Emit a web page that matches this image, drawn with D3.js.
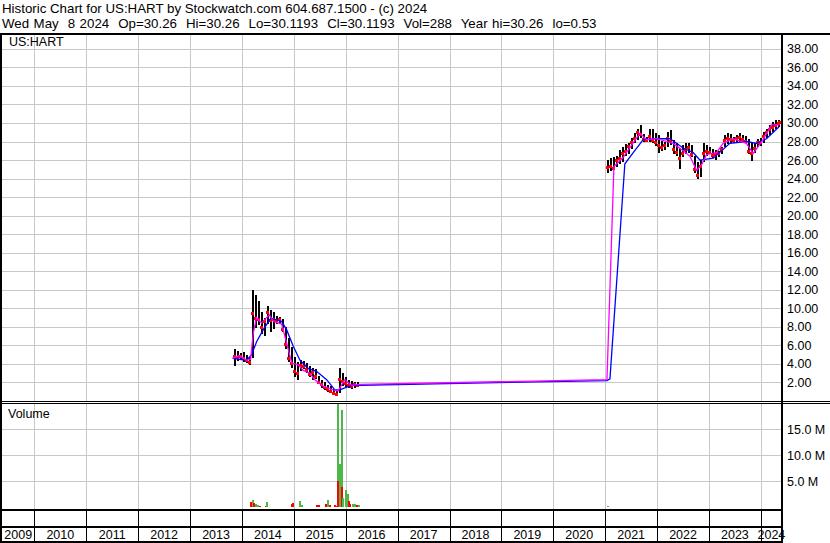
<!DOCTYPE html>
<html lang="en">
<head>
<meta charset="UTF-8">
<title>Historic Chart US:HART</title>
<script src="https://d3js.org/d3.v7.min.js"></script>
<style>
    body { margin: 0; background: #fff; }
    text { font-family: Arial, "Liberation Sans", sans-serif; fill: #000; }
    .hdr { white-space: pre; }
</style>
</head>
<body>
<div id="chart"></div>
<script>
// header lines
var headerLines = [
    "Historic Chart for US:HART by Stockwatch.com 604.687.1500 - (c) 2024",
    "Wed May  8 2024  Op=30.26  Hi=30.26  Lo=30.1193  Cl=30.1193  Vol=288  Year hi=30.26  lo=0.53"
];

var yearLabels = ["2009", "2010", "2011", "2012", "2013", "2014", "2015", "2016",
    "2017", "2018", "2019", "2020", "2021", "2022", "2023", "2024"];
var priceTicks = [2, 4, 6, 8, 10, 12, 14, 16, 18, 20, 22, 24, 26, 28, 30, 32, 34, 36, 38];
var volumeTicks = [5, 10, 15]; // millions

// [date, high, low, close]
var priceBars = [
    ["2013-11-03", 5.6, 3.8, 4.9], ["2013-11-24", 5.4, 4.3, 4.7], ["2013-12-16", 5.2, 4.4, 4.9],
    ["2014-01-06", 5.3, 4.2, 4.6], ["2014-01-27", 5.0, 4.1, 4.4], ["2014-02-17", 4.7, 3.9, 4.2],
    ["2014-03-10", 12.0, 4.6, 9.5], ["2014-03-31", 11.4, 7.9, 9.0], ["2014-04-21", 10.8, 8.2, 8.8],
    ["2014-05-12", 9.6, 7.2, 8.0], ["2014-06-03", 9.0, 7.0, 8.6], ["2014-06-24", 10.2, 8.3, 9.6],
    ["2014-07-15", 9.8, 7.4, 8.7], ["2014-08-05", 9.6, 7.8, 8.9], ["2014-08-26", 9.2, 8.3, 8.7],
    ["2014-09-16", 9.1, 8.4, 8.8], ["2014-10-08", 8.8, 7.4, 7.8], ["2014-10-29", 8.0, 5.6, 6.2],
    ["2014-11-19", 6.8, 4.2, 4.6], ["2014-12-10", 5.8, 3.6, 4.1], ["2014-12-31", 4.8, 2.6, 3.2],
    ["2015-01-21", 4.2, 2.3, 3.0], ["2015-02-11", 4.4, 3.2, 3.9], ["2015-03-04", 4.3, 3.5, 3.8],
    ["2015-03-25", 4.1, 3.0, 3.4], ["2015-04-15", 3.8, 2.6, 2.9], ["2015-05-07", 3.6, 2.3, 3.1],
    ["2015-05-28", 3.4, 2.4, 2.7], ["2015-06-18", 2.7, 1.8, 2.1], ["2015-07-09", 2.3, 1.4, 1.8],
    ["2015-07-30", 2.0, 1.2, 1.5], ["2015-08-20", 1.7, 1.0, 1.3], ["2015-09-10", 1.6, 0.9, 1.1],
    ["2015-10-01", 1.3, 0.7, 0.9], ["2015-10-22", 1.2, 0.53, 0.8], ["2015-11-12", 3.6, 0.9, 2.4],
    ["2015-12-03", 3.0, 1.6, 2.2], ["2015-12-24", 2.6, 1.5, 1.9], ["2016-01-15", 2.3, 1.4, 1.7],
    ["2016-02-05", 2.2, 1.3, 1.6], ["2016-02-26", 2.1, 1.4, 1.8], ["2016-03-18", 2.0, 1.5, 1.7],
    ["2021-01-13", 26.0, 24.6, 25.2], ["2021-02-03", 26.2, 24.8, 25.4], ["2021-02-24", 26.3, 24.9, 25.1],
    ["2021-03-17", 26.4, 25.2, 26.0], ["2021-04-07", 27.1, 25.6, 26.2], ["2021-04-28", 27.4, 25.8, 26.8],
    ["2021-05-19", 27.7, 26.4, 27.0], ["2021-06-09", 27.8, 26.6, 27.5], ["2021-07-01", 28.4, 27.2, 28.0],
    ["2021-07-22", 28.9, 27.8, 28.4], ["2021-08-12", 29.4, 28.2, 29.0], ["2021-09-02", 29.8, 28.4, 28.8],
    ["2021-09-23", 28.8, 28.0, 28.3], ["2021-10-14", 28.5, 27.9, 28.2], ["2021-11-04", 29.3, 27.9, 28.6],
    ["2021-11-25", 29.4, 27.8, 28.2], ["2021-12-17", 28.9, 27.5, 28.0], ["2022-01-07", 28.7, 26.8, 27.6],
    ["2022-01-28", 28.1, 27.0, 27.4], ["2022-02-18", 28.0, 27.1, 27.6], ["2022-03-11", 29.0, 27.4, 28.4],
    ["2022-04-01", 29.2, 27.6, 28.1], ["2022-04-22", 28.2, 26.6, 27.2], ["2022-05-14", 27.8, 26.4, 26.9],
    ["2022-06-04", 27.3, 25.0, 26.2], ["2022-06-25", 27.6, 26.3, 26.8], ["2022-07-16", 27.8, 26.6, 27.2],
    ["2022-08-06", 27.8, 26.8, 27.4], ["2022-08-27", 27.6, 26.3, 26.6], ["2022-09-17", 26.4, 24.6, 25.0],
    ["2022-10-09", 25.8, 24.0, 24.4], ["2022-10-30", 26.0, 24.2, 25.4], ["2022-11-19", 27.8, 25.8, 26.8],
    ["2022-12-10", 27.6, 26.4, 27.0], ["2023-01-01", 27.4, 26.6, 26.9], ["2023-01-22", 27.2, 26.2, 26.5],
    ["2023-02-12", 27.1, 26.0, 26.6], ["2023-03-05", 27.0, 26.3, 26.8], ["2023-03-26", 27.4, 26.6, 27.2],
    ["2023-04-16", 28.7, 27.4, 28.2], ["2023-05-08", 28.9, 27.7, 28.4], ["2023-05-29", 28.8, 27.8, 28.3],
    ["2023-06-19", 28.5, 27.8, 28.2], ["2023-07-10", 28.7, 27.9, 28.4], ["2023-07-31", 28.9, 28.0, 28.5],
    ["2023-08-21", 28.7, 27.9, 28.3], ["2023-09-11", 28.6, 27.9, 28.1], ["2023-10-02", 28.3, 26.6, 27.0],
    ["2023-10-23", 27.8, 25.9, 26.8], ["2023-11-13", 27.8, 26.8, 27.3], ["2023-12-04", 28.3, 27.4, 27.9],
    ["2023-12-25", 28.4, 27.5, 28.0], ["2024-01-15", 29.0, 27.8, 28.6], ["2024-02-05", 29.4, 28.4, 29.0],
    ["2024-02-26", 29.8, 28.7, 29.3], ["2024-03-18", 30.1, 29.0, 29.6], ["2024-04-08", 30.3, 29.4, 29.8],
    ["2024-04-29", 30.3, 29.6, 30.0], ["2024-05-08", 30.26, 30.12, 30.12]
];

// moving averages [date, value]
var fastAverage = [
    ["2013-10-27", 4.6], ["2013-12-13", 4.9], ["2014-02-03", 4.4], ["2014-03-03", 4.5],
    ["2014-03-21", 7.3], ["2014-04-14", 9.0], ["2014-05-19", 8.4], ["2014-07-12", 9.3],
    ["2014-08-09", 8.6], ["2014-10-07", 8.3], ["2014-11-11", 6.3], ["2014-12-17", 4.1],
    ["2015-02-01", 3.9], ["2015-03-08", 3.3], ["2015-04-24", 3.0], ["2015-05-29", 2.3],
    ["2015-07-27", 1.6], ["2015-10-05", 1.2], ["2015-11-09", 1.1], ["2015-12-26", 2.3],
    ["2016-02-11", 1.7], ["2016-04-10", 1.8], ["2021-01-13", 2.3], ["2021-03-03", 25.3],
    ["2021-05-07", 26.3], ["2021-09-02", 28.9], ["2021-10-19", 28.2], ["2021-12-29", 28.3],
    ["2022-04-24", 27.8], ["2022-07-03", 27.0], ["2022-08-20", 26.4], ["2022-10-06", 24.9],
    ["2022-11-10", 25.5], ["2022-12-15", 26.6], ["2023-02-23", 26.8], ["2023-04-11", 27.8],
    ["2023-06-20", 28.3], ["2023-09-22", 27.8], ["2023-11-08", 26.7], ["2024-01-17", 28.2],
    ["2024-03-16", 29.8], ["2024-05-08", 29.8]
];
var slowAverage = [
    ["2013-10-27", 4.6], ["2014-02-03", 4.4], ["2014-03-10", 5.0], ["2014-04-14", 6.4],
    ["2014-05-31", 7.7], ["2014-07-17", 8.8], ["2014-08-21", 8.8], ["2014-10-07", 8.6],
    ["2014-11-11", 7.7], ["2014-12-28", 5.9], ["2015-02-13", 4.4], ["2015-04-12", 3.5],
    ["2015-06-10", 3.2], ["2015-08-20", 2.3], ["2015-10-17", 1.2], ["2015-11-21", 1.2],
    ["2016-01-08", 1.5], ["2016-02-23", 1.7], ["2016-04-10", 1.7], ["2021-01-13", 2.2],
    ["2021-02-03", 2.4], ["2021-05-19", 25.6], ["2021-07-17", 26.8], ["2021-09-25", 28.2],
    ["2021-12-29", 28.3], ["2022-04-01", 28.3], ["2022-07-03", 27.3], ["2022-09-12", 26.8],
    ["2022-10-29", 26.0], ["2023-01-31", 26.2], ["2023-05-28", 27.8], ["2023-09-22", 28.0],
    ["2023-12-02", 27.8], ["2024-02-10", 28.3], ["2024-05-08", 29.6]
];

// [date, volume in millions, up/down]
var volumeBars = [
    ["2014-02-26", 0.9, "dn"], ["2014-03-10", 1.35, "up"], ["2014-03-21", 0.7, "dn"],
    ["2014-04-02", 0.6, "up"], ["2014-04-18", 0.4, "up"], ["2014-04-30", 0.2, "dn"],
    ["2014-06-09", 0.2, "dn"], ["2014-06-18", 0.9, "up"], ["2014-12-11", 0.5, "dn"],
    ["2014-12-20", 0.7, "dn"], ["2015-02-06", 1.2, "up"], ["2015-02-22", 0.4, "up"],
    ["2015-06-05", 0.3, "dn"], ["2015-06-23", 0.3, "dn"], ["2015-08-05", 0.6, "dn"],
    ["2015-08-20", 1.3, "up"], ["2015-09-03", 0.3, "dn"], ["2015-10-10", 0.3, "dn"],
    ["2015-10-21", 0.25, "dn"], ["2015-11-02", 19.9, "up"], ["2015-11-02", 5.0, "dn"],
    ["2015-11-14", 8.2, "up"], ["2015-11-26", 18.7, "up"], ["2015-11-26", 3.9, "dn"],
    ["2015-12-08", 1.7, "up"], ["2015-12-29", 3.3, "up"], ["2016-01-12", 2.5, "up"],
    ["2016-01-19", 1.2, "dn"], ["2016-01-26", 0.6, "dn"], ["2016-02-11", 0.5, "up"],
    ["2016-02-27", 0.6, "up"], ["2016-03-17", 0.3, "dn"], ["2016-03-29", 0.3, "up"],
    ["2021-01-13", 0.15, "up"]
];

var W = 830, H = 543;
var left = 2, right = 782;
var priceTop = 34, priceBottom = 401;
var volTop = 403, volBottom = 507;
var parse = d3.timeParse("%Y-%m-%d");

var svg = d3.select("#chart").append("svg")
    .attr("width", W).attr("height", H)
    .style("display", "block");

var x = d3.scaleTime()
    .domain([parse("2009-05-18"), parse("2024-05-29")])
    .range([left, right]);
var y = d3.scaleLinear().domain([0, 39.6]).range([priceBottom, priceTop]);
var yv = d3.scaleLinear().domain([0, 20]).range([volBottom, volTop]);

var yearStarts = yearLabels.map(function (s) { return parse(s + "-01-01"); });
var px = function (v) { return Math.round(v) + 0.5; };

// header text
svg.selectAll(".hdr").data(headerLines).enter().append("text")
    .attr("class", "hdr")
    .attr("x", 2)
    .attr("y", function (d, i) { return 13 + i * 15; })
    .style("font-size", "13.3px")
    .style("word-spacing", function (d, i) { return i ? "0.8px" : null; })
    .text(function (d) { return d; });

// grid
var grid = svg.append("g").attr("stroke", "#c8c8c8").attr("shape-rendering", "crispEdges");
grid.selectAll(".hg").data(priceTicks).enter().append("line")
    .attr("x1", left).attr("x2", right)
    .attr("y1", function (d) { return px(y(d)); })
    .attr("y2", function (d) { return px(y(d)); });
grid.selectAll(".vg").data(volumeTicks).enter().append("line")
    .attr("x1", left).attr("x2", right)
    .attr("y1", function (d) { return px(yv(d)); })
    .attr("y2", function (d) { return px(yv(d)); });
yearStarts.slice(1).forEach(function (d) {
    grid.append("line").attr("x1", px(x(d))).attr("x2", px(x(d)))
        .attr("y1", priceTop).attr("y2", priceBottom);
    grid.append("line").attr("x1", px(x(d))).attr("x2", px(x(d)))
        .attr("y1", volTop).attr("y2", 509);
});

// volume bars
svg.append("g").attr("shape-rendering", "crispEdges")
    .selectAll("rect").data(volumeBars).enter().append("rect")
    .attr("x", function (d) { return Math.round(x(parse(d[0]))); })
    .attr("width", 2)
    .attr("y", function (d) { return yv(d[1]); })
    .attr("height", function (d) { return volBottom - yv(d[1]); })
    .attr("fill", function (d) { return d[2] === "up" ? "#4cb848" : "#ff0000"; });

// price bars
var bars = svg.append("g").attr("shape-rendering", "crispEdges");
bars.selectAll("rect.hl").data(priceBars).enter().append("rect")
    .attr("x", function (d) { return Math.round(x(parse(d[0]))); })
    .attr("width", 2)
    .attr("y", function (d) { return y(d[1]); })
    .attr("height", function (d) { return Math.max(1, y(d[2]) - y(d[1])); })
    .attr("fill", "#000");
bars.selectAll("rect.cl").data(priceBars).enter().append("rect")
    .attr("x", function (d) { return Math.round(x(parse(d[0]))) - 1; })
    .attr("width", 3)
    .attr("y", function (d) { return y(d[3]) - 1; })
    .attr("height", 3)
    .attr("fill", "#ff0000");

// moving averages
var avgLine = d3.line()
    .x(function (d) { return x(parse(d[0])); })
    .y(function (d) { return y(d[1]); });
svg.append("path").datum(slowAverage)
    .attr("fill", "none").attr("stroke", "#0000ff").attr("stroke-width", 1.3)
    .attr("d", avgLine);
svg.append("path").datum(fastAverage)
    .attr("fill", "none").attr("stroke", "#ff00ff").attr("stroke-width", 1.3)
    .attr("d", avgLine);

// panel titles
svg.append("text").attr("x", 9).attr("y", 46).style("font-size", "12.5px").text("US:HART");
svg.append("text").attr("x", 8).attr("y", 418).style("font-size", "12.5px").text("Volume");

// right axis labels
svg.selectAll(".pt").data(priceTicks).enter().append("text")
    .attr("x", 787)
    .attr("y", function (d) { return y(d); })
    .attr("dy", "0.36em")
    .style("font-size", "12.5px")
    .text(function (d) { return d3.format(".2f")(d); });
svg.selectAll(".vt").data(volumeTicks).enter().append("text")
    .attr("x", 787)
    .attr("y", function (d) { return yv(d); })
    .attr("dy", "0.36em")
    .style("font-size", "12.5px")
    .text(function (d) { return d3.format(".1f")(d) + " M"; });

// frame
var frame = svg.append("g").attr("fill", "#000").attr("shape-rendering", "crispEdges");
frame.append("rect").attr("x", 0).attr("y", 33).attr("width", W).attr("height", 2);
frame.append("rect").attr("x", 0).attr("y", 33).attr("width", 2).attr("height", H - 33);
frame.append("rect").attr("x", right - 1).attr("y", 33).attr("width", 2).attr("height", H - 33);
frame.append("rect").attr("x", 0).attr("y", priceBottom).attr("width", W).attr("height", 1);
frame.append("rect").attr("x", 0).attr("y", volTop).attr("width", W).attr("height", 1);
frame.append("rect").attr("x", 0).attr("y", 509).attr("width", right).attr("height", 2);
frame.append("rect").attr("x", 0).attr("y", 526).attr("width", right).attr("height", 2);
frame.append("rect").attr("x", 0).attr("y", 541).attr("width", right).attr("height", 2);

// time axis separators and labels
yearStarts.slice(1).forEach(function (d) {
    frame.append("rect").attr("x", Math.round(x(d))).attr("y", 511)
        .attr("width", 1).attr("height", 30);
});
svg.selectAll(".yl").data(yearLabels).enter().append("text")
    .attr("x", function (d, i) {
        var a = Math.max(left, x(yearStarts[i]));
        var b = i + 1 < yearStarts.length ? x(yearStarts[i + 1]) : right;
        return (a + Math.min(b, right)) / 2;
    })
    .attr("y", 539)
    .attr("text-anchor", "middle")
    .style("font-size", "12.5px")
    .text(function (d) { return d; });
</script>
</body>
</html>
